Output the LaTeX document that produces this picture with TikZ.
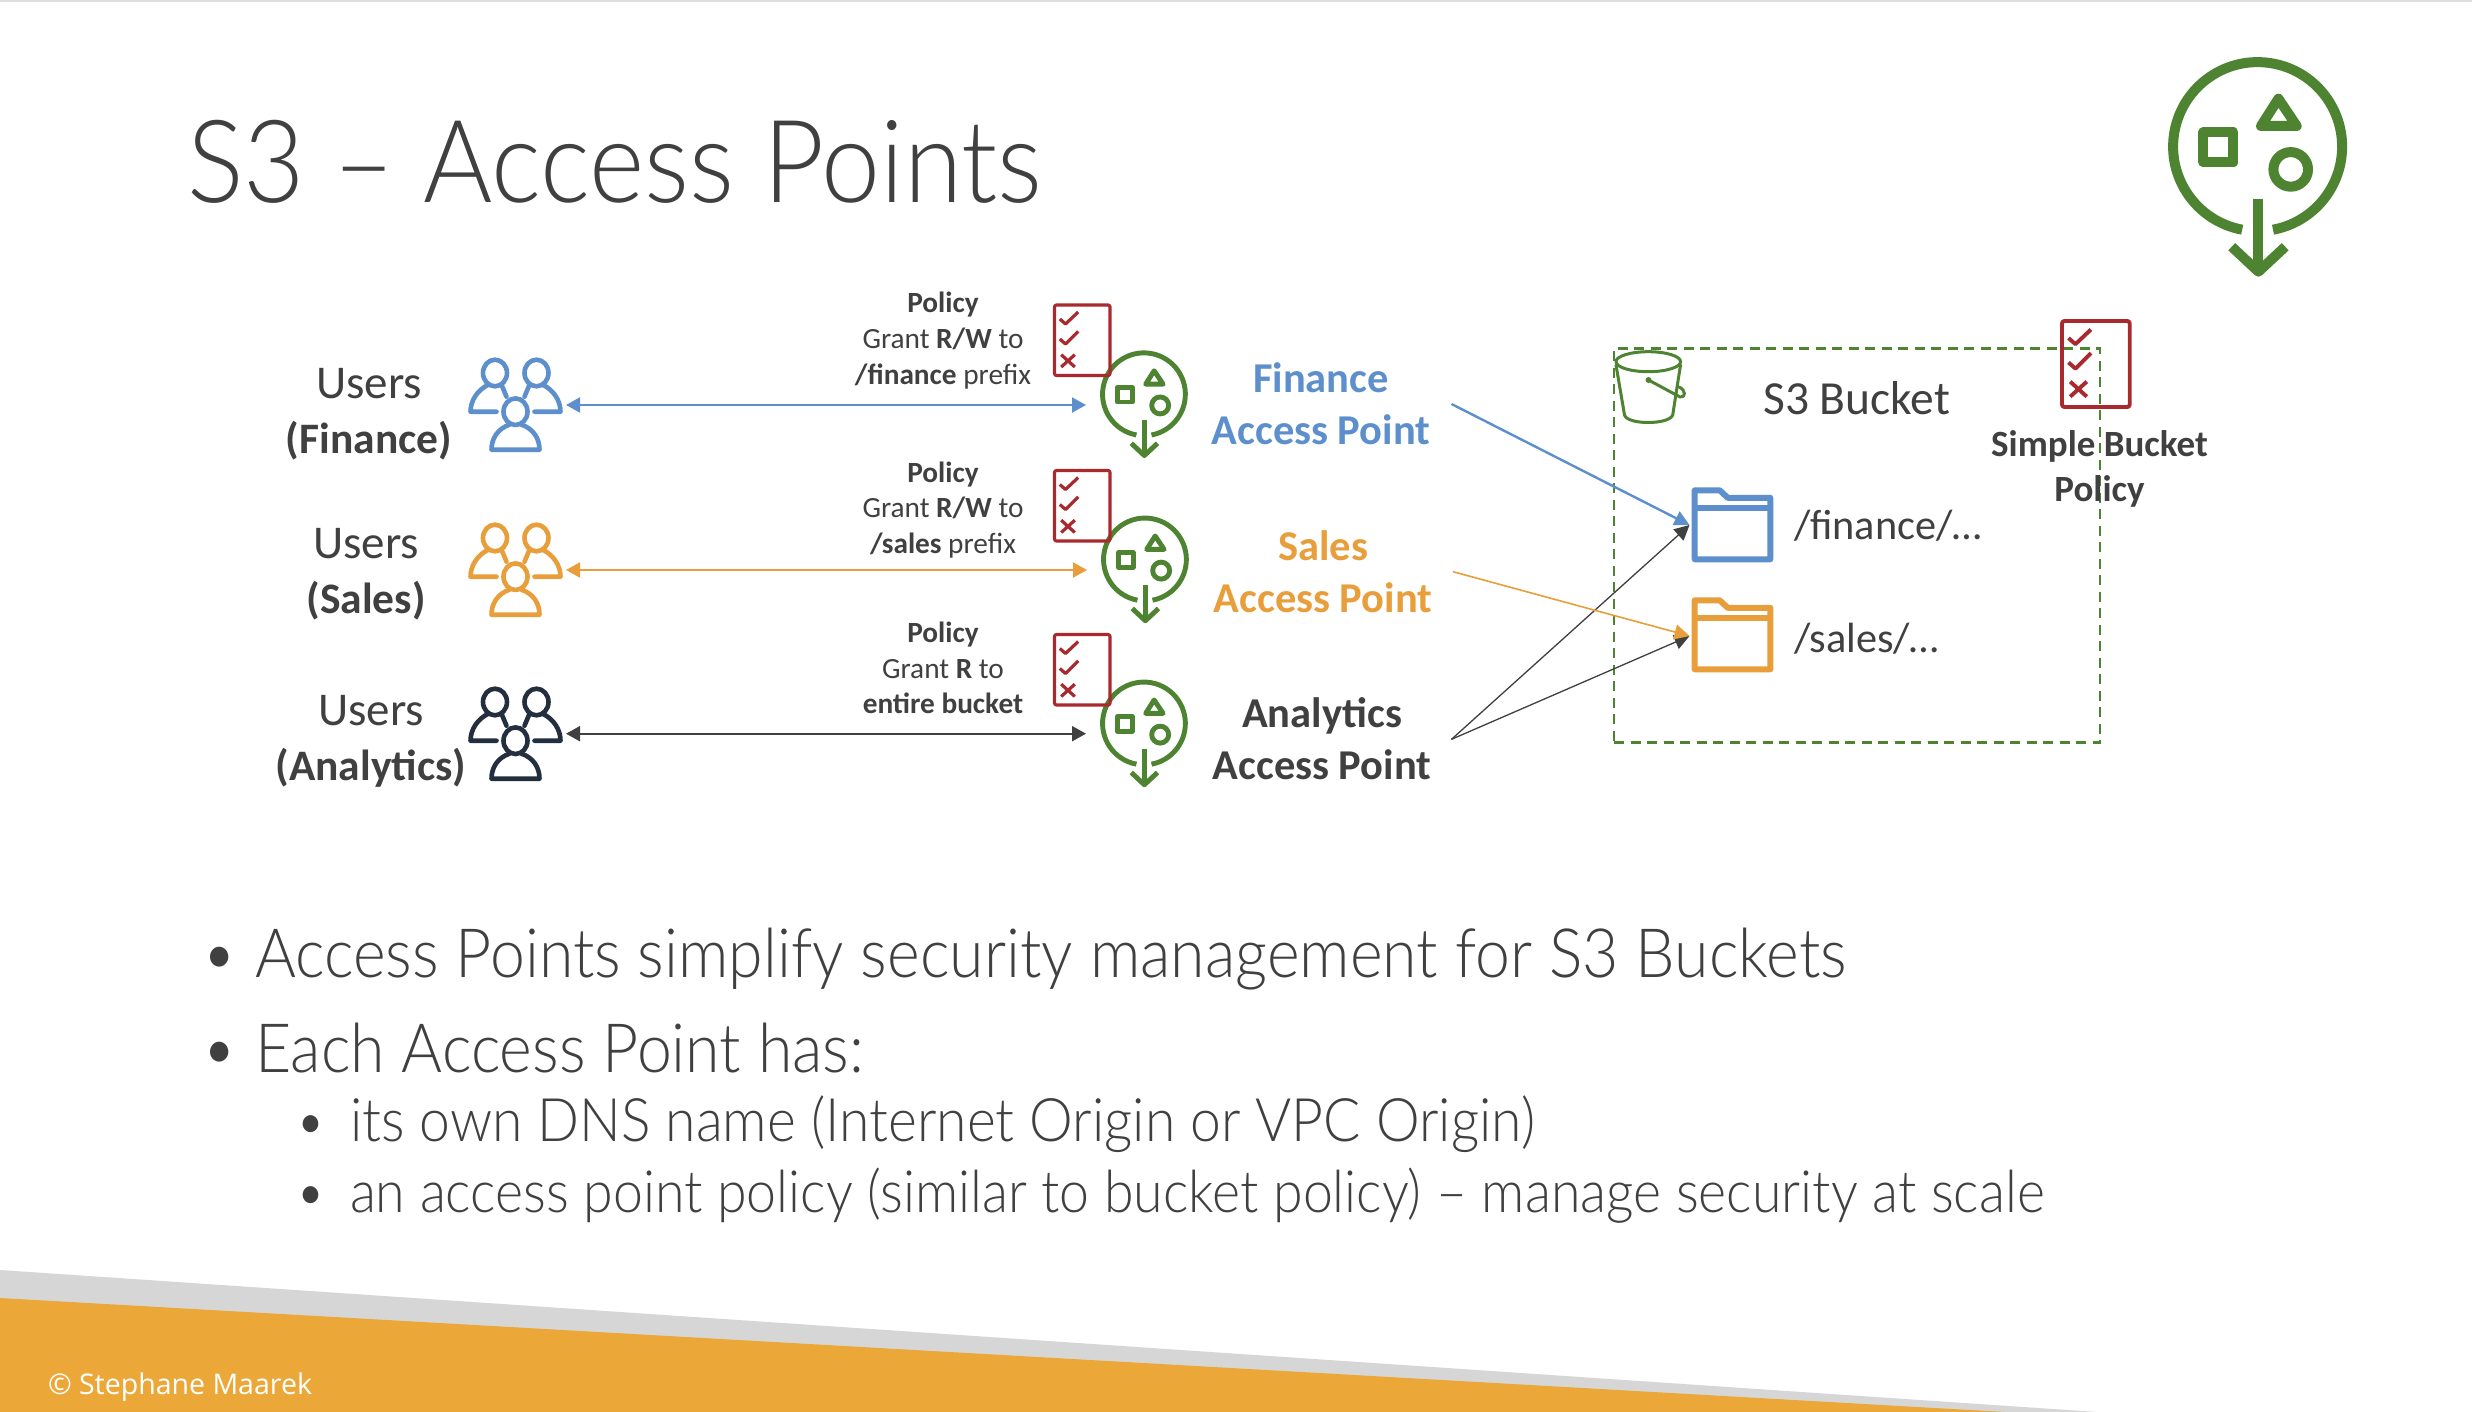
\documentclass[tikz,border=0pt]{standalone}
\usepackage{fontspec}
\usetikzlibrary{arrows.meta}
\setmainfont{Carlito}
\newfontfamily\gill[FakeStretch=0.92]{Lato Light}
\newfontfamily\cpr{Open Sans}
\definecolor{txt}{HTML}{404040}
\definecolor{awsgreen}{HTML}{4E8431}
\definecolor{polred}{HTML}{A82A2E}
\definecolor{fblue}{HTML}{5C8FCB}
\definecolor{forange}{HTML}{E89E3B}
\definecolor{navy}{HTML}{232F3E}
\definecolor{bandorange}{HTML}{ECA739}
\definecolor{bandgray}{HTML}{D6D6D6}
\newcommand{\fs}[1]{\fontsize{#1pt}{\the\dimexpr #1pt*122/100\relax}\selectfont}
\newcommand{\fsl}[2]{\fontsize{#1pt}{#2pt}\selectfont}
\tikzset{
  every node/.style={inner sep=0pt,outer sep=0pt,text=txt},
  anchorbox/.style={minimum width=#1,minimum height=10pt},
  lab/.style={anchor=base,align=center},
  both/.style={<->,>={Triangle[length=14pt,width=15pt]}},
  one/.style={->,>={Triangle[length=15pt,width=15pt]}},
}
% green access point icon: x, y, scale
\newcommand{\apicon}[3]{%
\begin{scope}[shift={(#1,#2)},scale=#3,draw=awsgreen,line width=#3*10pt,line join=round]
  \draw (-15.5,83) arc[start angle=100.5,end angle=439.5,radius=84.5];
  \draw (0.7,52) -- (0.7,125);
  \draw (-26,100) -- (0.7,125) -- (27.5,100);
  \draw (-54.3,-14.3) rectangle (-24.3,15.7);
  \draw (20.7,-48) -- (3.3,-20.7) -- (39,-20.7) -- cycle;
  \draw (33,22.7) circle[radius=17.3];
\end{scope}}
% policy icon: x, y (top left), scale
\newcommand{\policyicon}[3]{%
\begin{scope}[shift={(#1,#2)},scale=#3,draw=polred,line width=#3*3.2pt,line join=round]
  \draw[rounded corners=#3*2pt] (0,0) rectangle (55.5,70.5);
  \draw (5.3,14) -- (11,19) -- (23.7,7);
  \draw (5.3,34) -- (11,39) -- (23.7,26.3);
  \draw (6.7,49.7) -- (20.3,62) (6.7,62) -- (20.3,49.7);
\end{scope}}
% users icon: x, y (front head), colour
\newcommand{\usersicon}[3]{%
\begin{scope}[shift={(#1,#2)},draw=#3,line width=4.6pt,line join=round,line cap=round]
  \draw (-20.5,-38.7) ellipse[x radius=12,y radius=13.3];
  \draw (21,-38.7) ellipse[x radius=12,y radius=13.3];
  \draw (0,0) ellipse[x radius=12,y radius=13.3];
  \draw (-6,13) .. controls (-18,17) and (-24,27) .. (-24,38) -- (24,38) .. controls (24,27) and (18,17) .. (6,13);
  \draw (-27,-27) .. controls (-38,-22) and (-45,-11) .. (-45,0) -- (-19,0);
  \draw (27,-27) .. controls (38,-22) and (45,-11) .. (45,0) -- (19,0);
  \draw (-14,-27) -- (-9,-15);
  \draw (14,-27) -- (9,-15);
\end{scope}}
% folder icon: x, y (top left), colour
\newcommand{\foldericon}[3]{%
\begin{scope}[shift={(#1,#2)},draw=#3,line width=6pt,line join=round]
  \draw (3,3) -- (28,3) -- (36,10.5) -- (78.6,10.5) -- (78.6,72) -- (3,72) -- cycle;
  \draw (3,21) -- (78.6,21);
\end{scope}}
\begin{document}
\begin{tikzpicture}[x=1pt,y=-1pt]
\useasboundingbox (0,0) rectangle (2472,1412);
\fill[white] (0,0) rectangle (2472,1412);
\fill[bandgray!80] (0,0) rectangle (2472,2.5);
% bottom band
\fill[bandgray] (0,1270) -- (2097,1412) -- (0,1412) -- cycle;
\fill[bandorange] (0,1298) -- (2005,1412) -- (0,1412) -- cycle;
\node[anchor=base west,text=white] (copyright) at (48,1394) {\cpr\fs{28.5}© Stephane Maarek};
% title
\node[anchor=base west] (title) at (187,203) {\gill\fs{115}S3 – Access Points};
% corner icon
\apicon{2257.7}{146.7}{1}
% bullets
\node[anchor=base west] (b1m) at (201,977) {\gill\fs{68}•};
\node[anchor=base west] (b1) at (255,977) {\gill\fs{68}Access Points simplify security management for S3 Buckets};
\node[anchor=base west] (b2m) at (201,1072) {\gill\fs{68}•};
\node[anchor=base west] (b2) at (255,1072) {\gill\fs{68}Each Access Point has:};
\node[anchor=base west] (b3m) at (295,1141) {\gill\fs{58}•};
\node[anchor=base west] (b3) at (350,1141) {\gill\fs{60}its own DNS name (Internet Origin or VPC Origin)};
\node[anchor=base west] (b4m) at (295,1212) {\gill\fs{58}•};
\node[anchor=base west] (b4) at (350,1212) {\gill\fs{58.3}an access point policy (similar to bucket policy) – manage security at scale};
% users labels
\node[lab,font=\fsl{47}{55}] (lF) at (369,453) {Users\\\fontsize{43.5pt}{55pt}\selectfont\textbf{(Finance)}};
\node[lab,font=\fsl{47}{55}] (lS) at (366,613) {Users\\\fontsize{43.5pt}{55pt}\selectfont\textbf{(Sales)}};
\node[lab,font=\fsl{47}{55}] (lA) at (371,780) {Users\\\fontsize{43.5pt}{55pt}\selectfont\textbf{(Analytics)}};
% icons
\usersicon{515.5}{411.7}{fblue}
\usersicon{515.5}{576.7}{forange}
\usersicon{515.5}{740.7}{navy}
\apicon{1144}{394.3}{0.49}
\apicon{1145}{559.5}{0.49}
\apicon{1144}{723.5}{0.49}
\policyicon{1054.5}{305}{1}
\policyicon{1054.5}{470.5}{1}
\policyicon{1054.5}{634.5}{1}
% policy labels
\node[lab,font=\fsl{29.3}{35.5}] (pF) at (943,384) {\textbf{Policy}\\Grant \textbf{R/W} to\\\textbf{/finance} prefix};
\node[lab,font=\fsl{29.3}{35.5}] (pS) at (943,553) {\textbf{Policy}\\Grant \textbf{R/W} to\\\textbf{/sales} prefix};
\node[lab,font=\fsl{29.3}{35.5}] (pA) at (943,713.5) {\textbf{Policy}\\Grant \textbf{R} to\\\textbf{entire bucket}};
% access point labels
\node[lab,font=\fs{42.5}\bfseries,text=fblue] (aF) at (1321,444.5) {Finance\\Access Point};
\node[lab,font=\fs{42.5}\bfseries,text=forange] (aS) at (1323,612) {Sales\\Access Point};
\node[lab,font=\fs{42.5}\bfseries] (aA) at (1322,779.5) {Analytics\\Access Point};
% bucket frame
\node[draw=awsgreen,line width=2.6pt,dash pattern=on 10pt off 6.5pt,minimum width=486pt,minimum height=394.5pt] (bucket) at (1857,545.5) {};
\begin{scope}[draw=awsgreen,line width=3pt,line join=round,line cap=round]
  \draw (1648.3,361.7) ellipse[x radius=32.3,y radius=10];
  \draw (1616,365) -- (1624.5,415) .. controls (1627,425) and (1669,425) .. (1672.7,415) -- (1680.5,365);
  \draw (1648.5,380) -- (1680,397) .. controls (1686,398) and (1686,390) .. (1679,387);
  \fill[awsgreen] (1648.5,380) circle[radius=3];
\end{scope}
\node[anchor=base] (bt) at (1856.7,414) {\fs{47.5}S3 Bucket};
\policyicon{2062}{321}{1.22}
\node[lab,font=\fs{37}\bfseries] (sp) at (2099.5,501.5) {Simple Bucket\\Policy};
\foldericon{1691.7}{487.3}{fblue}
\foldericon{1691.7}{597.3}{forange}
\node[anchor=base west] (ff) at (1794,539.5) {\fs{42.3}/finance/…};
\node[anchor=base west] (fs) at (1794,652) {\fs{42.3}/sales/…};
% invisible anchors for connectors
\node[anchorbox=102pt] (uF) at (515,405) {};
\node[anchorbox=102pt] (uS) at (515,570) {};
\node[anchorbox=102pt] (uA) at (515,733.7) {};
\node[anchorbox=116pt] (apF) at (1144,405) {};
\node[anchorbox=116pt] (apS) at (1145,570) {};
\node[anchorbox=116pt] (apA) at (1144,733.7) {};
\node[anchorbox=262pt] (xF) at (1320.5,404) {};
\node[anchorbox=262pt] (xS) at (1322,571.7) {};
\node[anchorbox=262pt] (xA) at (1320.5,739.3) {};
\node[anchorbox=85pt] (fF) at (1732,525) {};
\node[anchorbox=85pt] (fS) at (1732,636) {};
% connectors
\draw[both,draw=fblue,fill=fblue,line width=2pt] (uF.east) -- (apF.west);
\draw[both,draw=forange,fill=forange,line width=2pt] (uS.east) -- (apS.west);
\draw[both,draw=txt,fill=txt,line width=2pt] (uA.east) -- (apA.west);
\draw[one,draw=txt,fill=txt,line width=1.3pt] (xA.east) -- (fF.west);
\draw[one,draw=txt,fill=txt,line width=1.3pt] (xA.east) -- (fS.west);
\draw[one,draw=fblue,fill=fblue,line width=2.4pt] (xF.east) -- (fF.west);
\draw[one,draw=forange,fill=forange,line width=1.6pt] (xS.east) -- (fS.west);
\end{tikzpicture}
\end{document}
